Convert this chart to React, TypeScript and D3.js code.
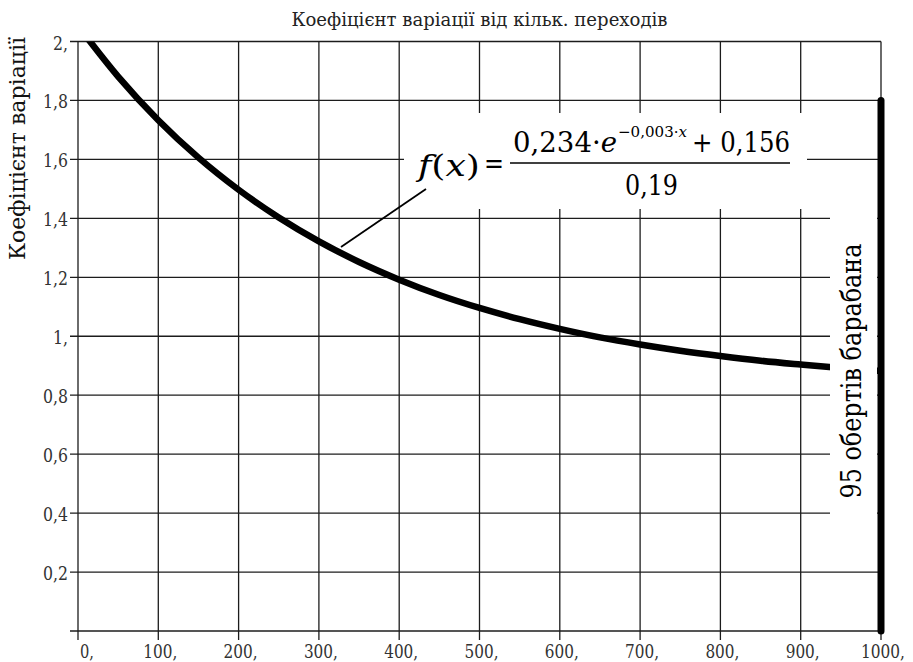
import React from "react";
import * as d3 from "d3";

const title = "Коефіцієнт варіації від кільк. переходів";
const yAxisTitle = "Коефіцієнт варіації";
const markerLabel = "95 обертів барабана";

const xTicks = [0, 100, 200, 300, 400, 500, 600, 700, 800, 900, 1000];
const xTickLabels = ["0,", "100,", "200,", "300,", "400,", "500,", "600,", "700,", "800,", "900,", "1000,"];
const yTicks = [0.2, 0.4, 0.6, 0.8, 1.0, 1.2, 1.4, 1.6, 1.8, 2.0];
const yTickLabels = ["0,2", "0,4", "0,6", "0,8", "1,", "1,2", "1,4", "1,6", "1,8", "2,"];
const yGrid = [0, 0.2, 0.4, 0.6, 0.8, 1.0, 1.2, 1.4, 1.6, 1.8, 2.0];

// values
const curveX = [0, 50, 100, 150, 200, 250, 300, 350, 400, 450, 500, 550, 600, 650, 700, 750, 800, 850, 900, 950, 1000];
const curveY = [2.053, 1.881, 1.733, 1.606, 1.497, 1.403, 1.322, 1.252, 1.192, 1.14, 1.096, 1.058, 1.025, 0.996, 0.972, 0.951, 0.933, 0.917, 0.904, 0.892, 0.882];

const markerX = [1000];
const markerTop = [1.8];
const markerAnchorY = [0.882];

const W = 913;
const H = 662;
const left = 78;
const right = 881;
const top = 41.5;
const bottom = 631;
const font = "'DejaVu Serif', 'Liberation Serif', 'Noto Serif', serif";
const gridColor = "#1c1c1c";

const labelLen = (s: string, comma = 5) => {
  let w = 0;
  for (const c of s) w += c === "," ? comma : 10;
  return w;
};

export default function App() {
  const x = d3.scaleLinear().domain([0, 1000]).range([left, right]);
  const y = d3.scaleLinear().domain([0, 2]).range([bottom, top]);
  const pts: [number, number][] = curveX.map((v, i) => [v, curveY[i]]);
  const line = d3
    .line<[number, number]>()
    .x((d) => x(d[0]))
    .y((d) => y(d[1]))
    .curve(d3.curveMonotoneX);

  const mx = x(markerX[0]);
  const my = y(markerAnchorY[0]);

  return (
    <svg
      width={W}
      height={H}
      viewBox={`0 0 ${W} ${H}`}
      style={{ position: "absolute", left: 0, top: 0, background: "#fff" }}
      fontFamily={font}
    >
      <defs>
        <clipPath id="plotClip">
          <rect x={left} y={top} width={right - left} height={bottom - top} />
        </clipPath>
      </defs>
      <rect x={0} y={0} width={W} height={H} fill="#fff" />

      {/* title */}
      <text
        x={(left + right) / 2}
        y={26}
        textAnchor="middle"
        fontSize={19}
        fill="#222"
        textLength={376}
        lengthAdjust="spacingAndGlyphs"
      >
        {title}
      </text>

      {/* grid */}
      {xTicks.map((t) => (
        <line key={"vx" + t} x1={x(t)} x2={x(t)} y1={top} y2={bottom + 9} stroke={gridColor} strokeWidth={1.3} />
      ))}
      {yGrid.map((t) => (
        <line key={"hy" + t} x1={left - 8} x2={right} y1={y(t)} y2={y(t)} stroke={gridColor} strokeWidth={1.3} />
      ))}

      {/* x tick labels */}
      {xTicks.map((t, i) => {
        const num = xTickLabels[i].replace(",", "");
        const w = num.length * 10;
        const sx = Math.max(x(t) - w / 2, left + 2);
        return (
          <text
            key={"xl" + t}
            x={sx}
            y={658}
            fontSize={19}
            fill="#333"
            textLength={labelLen(xTickLabels[i], 4)}
            lengthAdjust="spacingAndGlyphs"
          >
            {xTickLabels[i]}
          </text>
        );
      })}

      {/* y tick labels */}
      {yTicks.map((t, i) => (
        <text
          key={"yl" + t}
          x={68 - labelLen(yTickLabels[i])}
          y={y(t) + 8}
          fontSize={19}
          fill="#333"
          textLength={labelLen(yTickLabels[i])}
          lengthAdjust="spacingAndGlyphs"
        >
          {yTickLabels[i]}
        </text>
      ))}

      {/* y axis title */}
      <text
        transform={`translate(25, 148.5) rotate(-90)`}
        textAnchor="middle"
        fontSize={22}
        fill="#111"
        textLength={223}
        lengthAdjust="spacingAndGlyphs"
      >
        {yAxisTitle}
      </text>

      {/* curve */}
      <g clipPath="url(#plotClip)">
        <path d={line(pts) || ""} fill="none" stroke="#000" strokeWidth={6.5} strokeLinejoin="round" strokeLinecap="round" />
      </g>

      {/* marker bar */}
      <line x1={mx} x2={mx} y1={y(0)} y2={y(markerTop[0])} stroke="#000" strokeWidth={7} strokeLinecap="round" />

      {/* label box */}
      <rect x={830} y={180} width={47} height={380} fill="#fff" />
      <text
        transform={`translate(861, ${my}) rotate(-90)`}
        textAnchor="middle"
        fontSize={28}
        fill="#000"
        textLength={255}
        lengthAdjust="spacingAndGlyphs"
      >
        {markerLabel}
      </text>

      {/* formula box */}
      <rect x={404} y={113} width={403} height={96} fill="#fff" />
      <line x1={341} y1={247} x2={426} y2={189} stroke="#000" strokeWidth={1.8} />
      <g fill="#000">
        <text x={418} y={176} fontSize={30} textLength={62} lengthAdjust="spacingAndGlyphs">
          <tspan fontStyle="italic">f</tspan>
          <tspan>(</tspan>
          <tspan fontStyle="italic">x</tspan>
          <tspan>)</tspan>
        </text>
        <text x={484} y={173} fontSize={28} textLength={20} lengthAdjust="spacingAndGlyphs">=</text>
        <line x1={510} x2={790} y1={163} y2={163} stroke="#000" strokeWidth={1.5} />
        <text x={513} y={152} fontSize={28} textLength={104} lengthAdjust="spacingAndGlyphs">
          0,234·<tspan fontStyle="italic">e</tspan>
        </text>
        <text x={618} y={137} fontSize={15} textLength={69} lengthAdjust="spacingAndGlyphs">
          −0,003·<tspan fontStyle="italic">x</tspan>
        </text>
        <text x={692} y={152} fontSize={28} textLength={98} lengthAdjust="spacingAndGlyphs">
          + 0,156
        </text>
        <text x={625} y={195} fontSize={28} textLength={53} lengthAdjust="spacingAndGlyphs">
          0,19
        </text>
      </g>
    </svg>
  );
}
